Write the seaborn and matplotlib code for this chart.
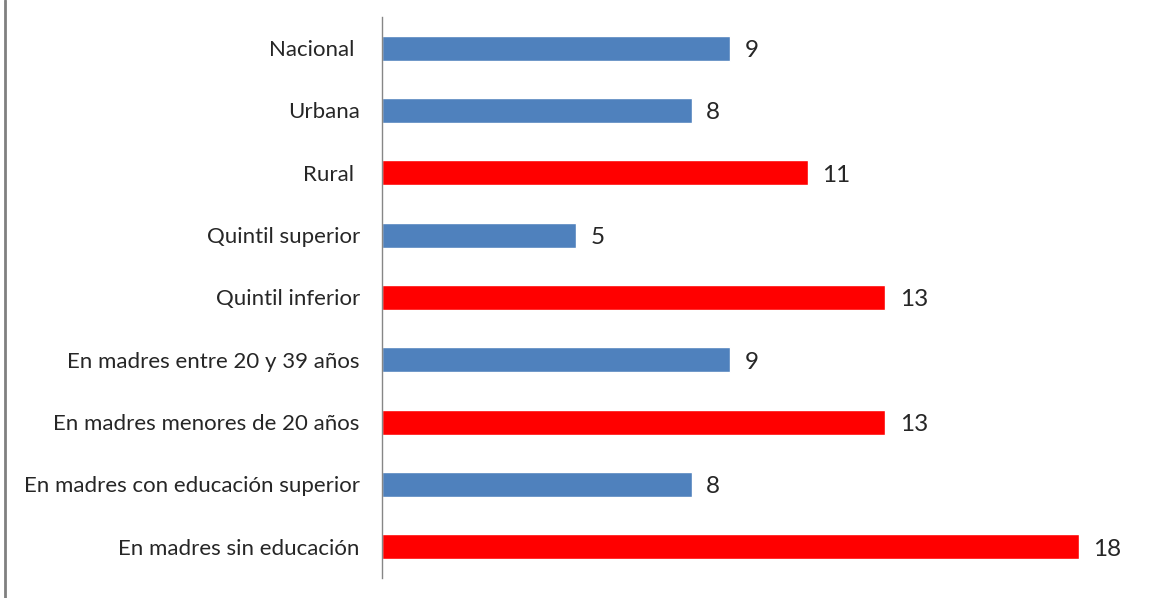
import matplotlib
matplotlib.use("Agg")
import matplotlib.pyplot as plt
from matplotlib.lines import Line2D
import seaborn as sns
import pandas as pd

categories = [
    "Nacional ",
    "Urbana",
    "Rural ",
    "Quintil superior",
    "Quintil inferior",
    "En madres entre 20 y 39 años",
    "En madres menores de 20 años",
    "En madres con educación superior",
    "En madres sin educación",
]
values = [9, 8, 11, 5, 13, 9, 13, 8, 18]
groups = ["ref", "ref", "gap", "ref", "gap", "ref", "gap", "ref", "gap"]

palette = {"ref": "#4F81BD", "gap": "#FF0000"}

sns.set_style("white")
plt.rcParams["font.family"] = ["Lato", "DejaVu Sans"]

df = pd.DataFrame({"cat": categories, "val": values, "grp": groups})

W, H = 1171, 598
fig = plt.figure(figsize=(W / 100, H / 100), dpi=100)
ax = fig.add_axes([382 / W, 1 - 578 / H, (1156 - 382) / W, (578 - 17) / H])

sns.barplot(data=df, x="val", y="cat", hue="grp", palette=palette,
            dodge=False, width=0.40, legend=False, ax=ax, orient="h",
            saturation=1)

ax.set_xlim(0, 20)
ax.set_xlabel("")
ax.set_ylabel("")
ax.set_xticks([])
for s in ["top", "right", "bottom"]:
    ax.spines[s].set_visible(False)
ax.spines["left"].set_color("#868686")
ax.spines["left"].set_linewidth(1.0)
ax.tick_params(axis="y", length=0, pad=16, labelsize=16, labelcolor="#262626")

for i, v in enumerate(values):
    ax.text(v + 0.38, i + 0.04, f"{v}", va="center", ha="left", fontsize=17.5,
            color="#262626")

fig.add_artist(Line2D([5.5 / W, 5.5 / W], [0, 1], transform=fig.transFigure,
                      color="#808080", linewidth=2))

fig.savefig("out.png", dpi=100, facecolor="white")
